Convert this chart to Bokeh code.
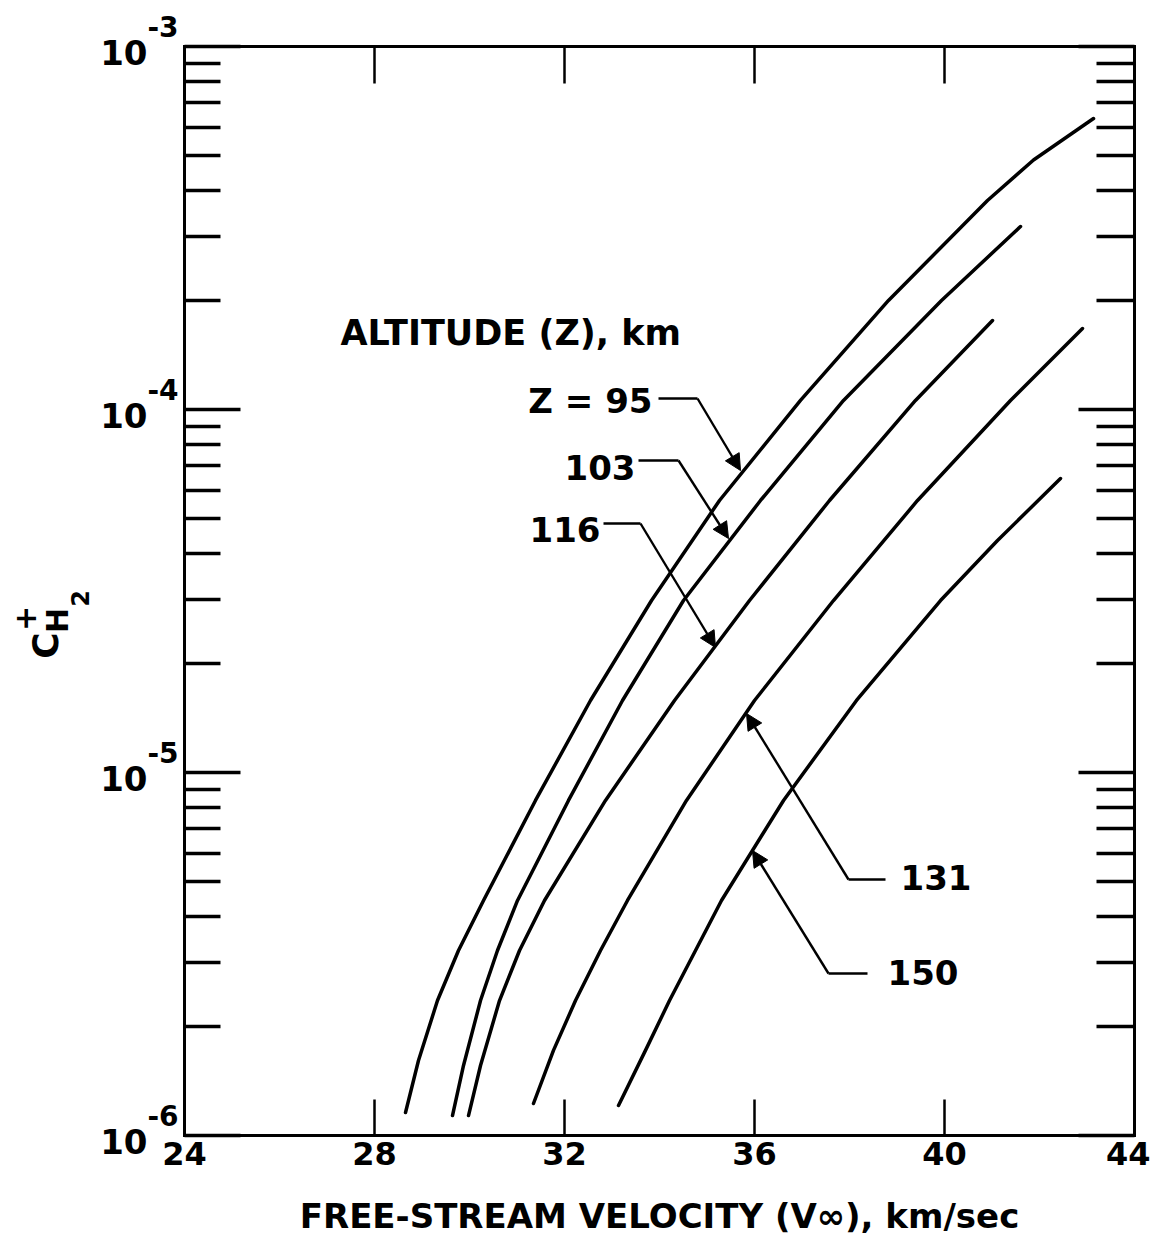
import numpy as np
from bokeh.plotting import figure
from bokeh.models import (Range1d, FixedTicker, LinearAxis, LogAxis, Label, Arrow, NormalHead,
                          CustomJSTickFormatter)
from bokeh.core.properties import value
from bokeh.embed import file_html
from bokeh.resources import INLINE

# ---------------- data ----------------
altitudes = [95, 103, 116, 131, 150]

v_95 = [28.653, 28.926, 29.326, 29.768, 30.295, 31.389, 32.547, 33.832, 35.263, 36.968,
        38.821, 40.905, 41.874, 43.137]
c_95 = [1.157e-6, 1.609e-6, 2.354e-6, 3.233e-6, 4.441e-6, 8.375e-6, 1.579e-5, 2.977e-5, 5.615e-5, 1.059e-4,
        1.997e-4, 3.765e-4, 4.866e-4, 6.332e-4]

v_103 = [29.642, 29.874, 30.232, 30.589, 31.011, 32.084, 33.221, 34.505, 36.126, 37.874, 39.937, 41.600]
c_103 = [1.135e-6, 1.559e-6, 2.354e-6, 3.233e-6, 4.441e-6, 8.375e-6, 1.579e-5, 2.977e-5, 5.615e-5, 1.059e-4,
         1.997e-4, 3.192e-4]

v_116 = [29.979, 30.232, 30.632, 31.053, 31.579, 32.863, 34.316, 35.895, 37.579, 39.389, 41.011]
c_116 = [1.135e-6, 1.559e-6, 2.354e-6, 3.233e-6, 4.441e-6, 8.375e-6, 1.579e-5, 2.977e-5, 5.615e-5, 1.059e-4,
         1.758e-4]

v_131 = [31.347, 31.768, 32.232, 32.758, 33.326, 34.568, 36.000, 37.663, 39.432, 41.389, 42.905]
c_131 = [1.225e-6, 1.716e-6, 2.354e-6, 3.233e-6, 4.441e-6, 8.375e-6, 1.579e-5, 2.977e-5, 5.615e-5, 1.059e-4,
         1.671e-4]

v_150 = [33.137, 33.705, 34.211, 34.758, 35.305, 36.611, 38.147, 39.916, 41.116, 42.442]
c_150 = [1.210e-6, 1.716e-6, 2.354e-6, 3.233e-6, 4.441e-6, 8.375e-6, 1.579e-5, 2.977e-5, 4.356e-5, 6.455e-5]

x_ticks = [24, 28, 32, 36, 40, 44]
x_tick_labels = ["24", "28", "32", "36", "40", "44"]
y_decades = [-6, -5, -4, -3]
y_mantissas = [2, 3, 4, 5, 6, 7, 8, 9]

curve_labels = ["Z = 95", "103", "116", "131", "150"]
x_title = "FREE-STREAM VELOCITY (V\u221e), km/sec"
legend_title = "ALTITUDE (Z), km"

# ---------------- layout helpers (page pixel -> data) ----------------
X0_PX, X_PER_UNIT = 184.0, 47.5
Y0_PX, Y_PER_DEC = 46.0, 363.0
W, H = 1150, 1240

def px_x(px):
    return 24 + (px - X0_PX) / X_PER_UNIT

def px_y(py):
    return 10 ** (-3 - (py - Y0_PX) / Y_PER_DEC)

FONT = "DejaVu Sans"
blank = CustomJSTickFormatter(code="return ''")

major_y = [10.0 ** e for e in y_decades]
minor_y = [m * 10.0 ** e for e in y_decades[:-1] for m in y_mantissas]
x_lo, x_hi = x_ticks[0], x_ticks[-1]
y_lo, y_hi = major_y[0], major_y[-1]

# the frame spans the whole canvas; the box is drawn by fixed-location axes
p = figure(width=W, height=H, output_backend="svg", toolbar_location=None,
           x_range=Range1d(px_x(0), px_x(W)), y_range=Range1d(px_y(H), px_y(0)), y_axis_type="log",
           min_border_left=0, min_border_right=0, min_border_top=0, min_border_bottom=0)
p.background_fill_color = "white"
p.border_fill_color = "white"
p.outline_line_color = None
p.xgrid.visible = False
p.ygrid.visible = False

# bottom edge of the box (with tick labels)
xb = p.xaxis[0]
xb.ticker = FixedTicker(ticks=x_ticks)
xb.fixed_location = y_lo
xb.bounds = (x_lo, x_hi)
xb.major_label_overrides = {t: s for t, s in zip(x_ticks, x_tick_labels)}
xb.major_tick_in = 36
xb.major_tick_out = 0
xb.minor_tick_in = 0
xb.minor_tick_out = 0
xb.major_tick_line_width = 2.5
xb.major_tick_line_color = "black"
xb.axis_line_width = 3
xb.axis_line_color = "black"
xb.axis_line_cap = "square"
xb.major_label_text_font = FONT
xb.major_label_text_font_style = "bold"
xb.major_label_text_font_size = "32px"
xb.major_label_text_color = "black"
xb.major_label_standoff = 6

# left edge of the box
yl = p.yaxis[0]
yl.ticker = FixedTicker(ticks=major_y, minor_ticks=minor_y)
yl.formatter = blank
yl.fixed_location = x_lo
yl.bounds = (y_lo, y_hi)
yl.major_label_standoff = 0
yl.major_tick_in = 56
yl.major_tick_out = 0
yl.minor_tick_in = 36
yl.minor_tick_out = 0
yl.major_tick_line_width = 3.5
yl.minor_tick_line_width = 3.5
yl.major_tick_line_color = "black"
yl.minor_tick_line_color = "black"
yl.axis_line_width = 3
yl.axis_line_color = "black"
yl.axis_line_cap = "square"

# top edge of the box
xt = LinearAxis(ticker=FixedTicker(ticks=x_ticks), formatter=blank, fixed_location=y_hi,
                bounds=(x_lo, x_hi), major_tick_in=37, major_tick_out=0,
                minor_tick_in=0, minor_tick_out=0, major_tick_line_width=2.5,
                axis_line_width=3, axis_line_cap="square", major_label_standoff=0)
p.add_layout(xt, "above")

# right edge of the box
yr = LogAxis(ticker=FixedTicker(ticks=major_y, minor_ticks=minor_y), formatter=blank,
             fixed_location=x_hi, bounds=(y_lo, y_hi),
             major_tick_in=56, major_tick_out=0, minor_tick_in=38, minor_tick_out=0,
             major_tick_line_width=3.5, minor_tick_line_width=3.5, major_label_standoff=0,
             minor_tick_line_color="black", axis_line_width=3, axis_line_cap="square")
p.add_layout(yr, "right")

# y tick labels: 10 with raised exponent
p.text(x=[x_lo] * len(major_y), y=major_y, text=["10"] * len(major_y), x_offset=-37, y_offset=6,
       text_align="right", text_baseline="middle", text_font=value(FONT), text_font_style="bold",
       text_font_size="34px", text_color="black")
p.text(x=[x_lo] * len(major_y), y=major_y, text=[str(e) for e in y_decades], x_offset=-6, y_offset=-20,
       text_align="right", text_baseline="middle", text_font=value(FONT), text_font_style="bold",
       text_font_size="28px", text_color="black")

# x axis title, centred under the box
p.add_layout(Label(x=(x_lo + x_hi) / 2, y=px_y(1215), text=x_title, text_align="center",
                   text_baseline="middle", text_font=FONT, text_font_style="bold",
                   text_font_size="34px", text_color="black"))

# y axis title C+ H2 (rotated)
for txt, px, py, fs in [("C", 45, 645, "36px"), ("+", 24, 618, "30px"),
                        ("H", 57, 620, "30px"), ("2", 79, 598, "24px")]:
    p.add_layout(Label(x=px_x(px), y=px_y(py), text=txt, angle=np.pi / 2, text_align="center",
                       text_baseline="middle", text_font=FONT, text_font_style="bold",
                       text_font_size=fs, text_color="black"))

# curves
curves = [(v_95, c_95), (v_103, c_103), (v_116, c_116), (v_131, c_131), (v_150, c_150)]
for v, c in curves:
    p.line(v, c, line_color="black", line_width=3.5, line_cap="round", line_join="round")

# legend title
p.add_layout(Label(x=px_x(340), y=px_y(332), text=legend_title, text_align="left",
                   text_baseline="middle", text_font=FONT, text_font_style="bold",
                   text_font_size="35px", text_color="black"))

# curve labels with leader arrows
# (text anchor px, align, leader start px, leader corner px, arrow tip px)
label_layout = [
    ((652, 400), "right", (658, 398), (697, 398), (740, 470)),
    ((635, 467), "right", (638, 460), (678, 460), (728, 538)),
    ((600, 529), "right", (603, 523), (640, 523), (715, 647)),
    ((900, 877), "left", (885, 879), (848, 879), (746, 713)),
    ((887, 972), "left", (867, 973), (828, 973), (752, 850)),
]
for txt, (tp, al, ls, lc, tip) in zip(curve_labels, label_layout):
    p.add_layout(Label(x=px_x(tp[0]), y=px_y(tp[1]), text=txt, text_align=al, text_baseline="middle",
                       text_font=FONT, text_font_style="bold", text_font_size="34px",
                       text_color="black"))
    p.line([px_x(ls[0]), px_x(lc[0])], [px_y(ls[1]), px_y(lc[1])], line_color="black", line_width=2.4)
    p.add_layout(Arrow(end=NormalHead(size=16, fill_color="black", line_color="black", line_width=1),
                       x_start=px_x(lc[0]), y_start=px_y(lc[1]), x_end=px_x(tip[0]), y_end=px_y(tip[1]),
                       line_color="black", line_width=2.4))

open("out.html", "w").write(file_html(p, INLINE))
